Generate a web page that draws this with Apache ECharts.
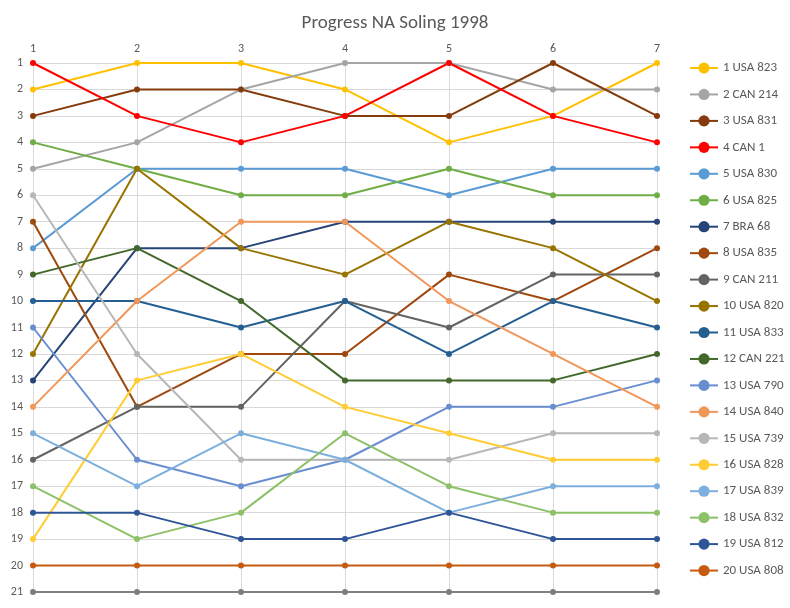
<!DOCTYPE html>
<html lang="en">
<head>
<meta charset="UTF-8">
<title>Progress NA Soling 1998</title>
<script src="https://cdn.jsdelivr.net/npm/echarts@6/dist/echarts.min.js"></script>
</head>
<body style="margin:0">
<div id="myChart" style="width:790px;height:608px;"></div>
<script>
const races = ['1', '2', '3', '4', '5', '6', '7'];
const boats = ['1 USA 823', '2 CAN 214', '3 USA 831', '4 CAN 1', '5 USA 830', '6 USA 825', '7 BRA 68',
    '8 USA 835', '9 CAN 211', '10 USA 820', '11 USA 833', '12 CAN 221', '13 USA 790', '14 USA 840',
    '15 USA 739', '16 USA 828', '17 USA 839', '18 USA 832', '19 USA 812', '20 USA 808', '21 USA 601'];
const colors = ['#FFC000', '#A5A5A5', '#843C0C', '#FF0000', '#5B9BD5', '#70AD47', '#264478',
    '#9E480E', '#636363', '#997300', '#255E91', '#43682B', '#698ED0', '#F1975A',
    '#B7B7B7', '#FFCD33', '#7CAFDD', '#8CC168', '#2F5597', '#C55A11', '#7F7F7F'];
const ranks = [
    [2, 1, 1, 2, 4, 3, 1],
    [5, 4, 2, 1, 1, 2, 2],
    [3, 2, 2, 3, 3, 1, 3],
    [1, 3, 4, 3, 1, 3, 4],
    [8, 5, 5, 5, 6, 5, 5],
    [4, 5, 6, 6, 5, 6, 6],
    [13, 8, 8, 7, 7, 7, 7],
    [7, 14, 12, 12, 9, 10, 8],
    [16, 14, 14, 10, 11, 9, 9],
    [12, 5, 8, 9, 7, 8, 10],
    [10, 10, 11, 10, 12, 10, 11],
    [9, 8, 10, 13, 13, 13, 12],
    [11, 16, 17, 16, 14, 14, 13],
    [14, 10, 7, 7, 10, 12, 14],
    [6, 12, 16, 16, 16, 15, 15],
    [19, 13, 12, 14, 15, 16, 16],
    [15, 17, 15, 16, 18, 17, 17],
    [17, 19, 18, 15, 17, 18, 18],
    [18, 18, 19, 19, 18, 19, 19],
    [20, 20, 20, 20, 20, 20, 20],
    [21, 21, 21, 21, 21, 21, 21]
];

const myChart = echarts.init(document.getElementById('myChart'));
const font = 'Calibri, Carlito, "Liberation Sans", sans-serif';
myChart.setOption({
    animation: false,
    color: colors,
    textStyle: { fontFamily: font },
    title: { text: 'Progress NA Soling 1998', left: 'center', top: 9,
        textStyle: { fontSize: 19, fontWeight: 'normal', color: '#595959', fontFamily: font } },
    grid: { left: 33, right: 133, top: 63, bottom: 16 },
    legend: {
        orient: 'vertical', left: 684, top: 56, itemGap: 12.45, itemWidth: 28, itemHeight: 14,
        textStyle: { fontSize: 13, color: '#595959', lineHeight: 14 },
        data: boats
    },
    xAxis: {
        type: 'category', data: races, position: 'top', boundaryGap: false,
        axisLine: { show: false }, axisTick: { show: false },
        axisLabel: { color: '#595959', fontSize: 12 },
        splitLine: { show: true, lineStyle: { color: '#D9D9D9' } }
    },
    yAxis: {
        type: 'value', inverse: true, min: 1, max: 21, interval: 1,
        axisLine: { show: false }, axisTick: { show: false },
        axisLabel: { color: '#595959', fontSize: 12, margin: 10 },
        splitLine: { lineStyle: { color: '#D9D9D9' } }
    },
    series: boats.map((name, i) => ({
        name: name, type: 'line', data: ranks[i],
        symbol: 'circle', symbolSize: 6,
        lineStyle: { width: 2 }
    }))
});
</script>
</body>
</html>
